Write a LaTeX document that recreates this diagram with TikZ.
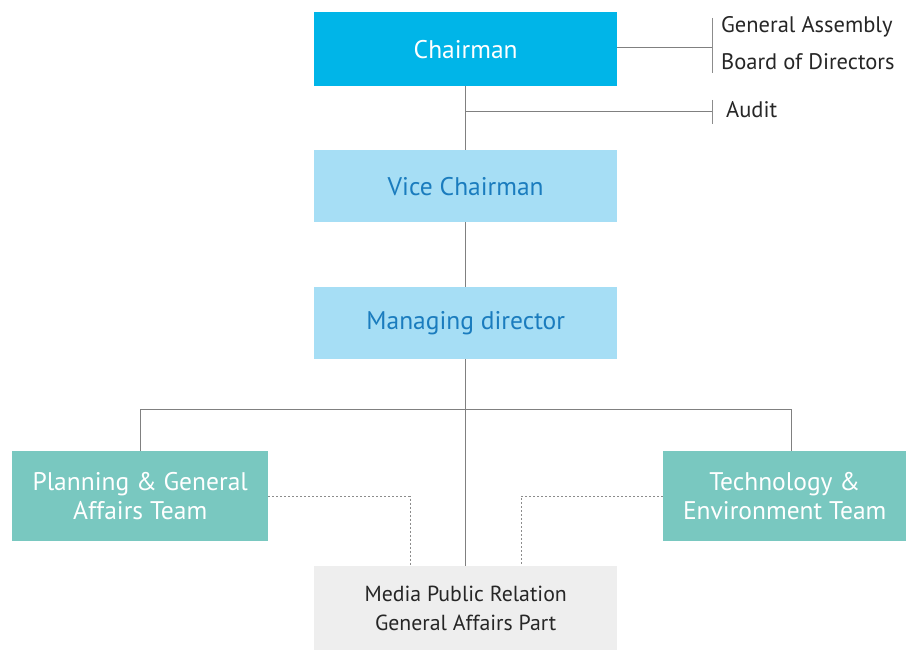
\documentclass[tikz,border=0pt]{standalone}
\usepackage{fontspec}
\setmainfont{PT Sans}
\usetikzlibrary{backgrounds}
\begin{document}
\begin{tikzpicture}[x=1pt,y=-1pt,
  box/.style={draw=none,minimum width=303pt,minimum height=74pt,inner sep=0pt,align=center,anchor=north west},
  big/.style={font=\fontsize{25.5}{29}\selectfont},
  conn/.style={draw=black!50,line width=1pt},
  dconn/.style={draw=black!45,line width=0.8pt,dash pattern=on 2pt off 2pt},
  tick/.style={draw=black!45,line width=0.8pt},
  side/.style={anchor=west,inner sep=0pt,font=\fontsize{22.5}{26}\selectfont,text=black!85}]
\definecolor{chair}{RGB}{0,181,232}
\definecolor{lblue}{RGB}{166,222,245}
\definecolor{tblue}{RGB}{26,124,190}
\definecolor{teal}{RGB}{121,200,192}
\definecolor{lgray}{RGB}{238,238,238}
\useasboundingbox (0,0) rectangle (906,650);
\node[box,big,fill=chair,text=white] (chair) at (314,12) {Chairman};
\node[box,big,fill=lblue,text=tblue,minimum height=72pt] (vice) at (314,150) {Vice Chairman};
\node[box,big,fill=lblue,text=tblue,minimum height=72pt] (md) at (314,287) {Managing director};
\node[box,big,fill=teal,text=white,minimum width=256pt,minimum height=90pt] (plan) at (12,451) {Planning \& General\\Affairs Team};
\node[box,big,fill=teal,text=white,minimum width=243pt,minimum height=90pt] (tech) at (663,451) {Technology \&\\Environment Team};
\node[box,fill=lgray,text=black!85,minimum height=84pt,font=\fontsize{21.8}{29}\selectfont] (media) at (314,566) {Media Public Relation\\General Affairs Part};
\coordinate (tk1a) at (712,18);
\coordinate (tk1b) at (712,73);
\coordinate (tk2a) at (712,100);
\coordinate (tk2b) at (712,124);
\coordinate (tk1) at (712,48);
\coordinate (tk2) at (712,112);
\coordinate (br) at (791,409);
\coordinate (dl) at (410,566);
\coordinate (dr) at (521,566);
\node[side] (ga) at (721,27) {General Assembly};
\node[side] (bd) at (721,62) {Board of Directors};
\node[side] (audit) at (726,110) {Audit};
\begin{scope}[on background layer]
\draw[tick] (tk1a) -- (tk1b);
\draw[tick] (tk2a) -- (tk2b);
\draw[conn] (chair.east |- tk1) -- (tk1);
\draw[conn] (chair.south) -- (media.north);
\draw[conn] (chair.south |- tk2) -- (tk2);
\draw[conn] (plan.north) |- (br) -- (br |- tech.north);
\draw[dconn] (plan.east) -| (dl);
\draw[dconn] (tech.west) -| (dr);
\end{scope}
\end{tikzpicture}
\end{document}
